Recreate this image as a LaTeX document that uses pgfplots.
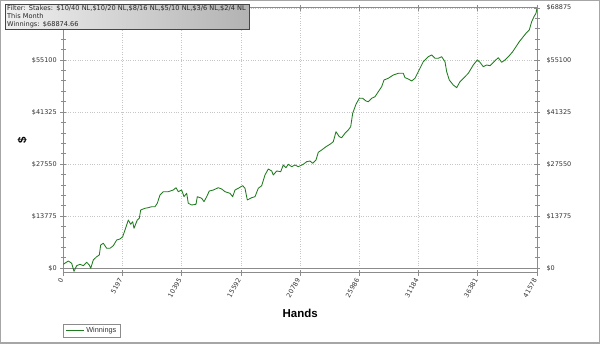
\documentclass[border=0pt]{standalone}
\usepackage{pgfplots}
\pgfplotsset{compat=1.18}
\usepackage{pgfplotstable}
\usepackage{fontspec}
\setmainfont{Liberation Sans}
\newfontfamily\dejavu{DejaVu Sans}

\definecolor{wline}{HTML}{1E7B1E}
\definecolor{axgray}{HTML}{8C8C8C}
\definecolor{lblgray}{HTML}{333333}

\pgfplotstableread{
x y
0 1058
439 1932
737 1323
939 -800
1176 688
1466 1058
1755 688
2054 1588
2282 873
2405 0
2633 2196
2932 3069
3160 3519
3283 6165
3511 6615
3809 5292
4099 5292
4389 5980
4687 7488
4977 7753
5214 8361
5415 10134
5705 12780
5916 11642
6091 12330
6205 10584
6495 12780
6671 13230
6793 15426
7171 15876
7460 16035
7759 16299
8048 16299
8250 17199
8487 19395
8777 20268
9216 20268
9655 20718
9892 21327
10094 20268
10392 20718
10594 18945
10831 19845
10971 17199
11270 16749
11647 16934
11761 18945
12147 18522
12349 17622
12586 18945
12814 20454
13166 20718
13604 21327
13903 20983
14192 20268
14631 19845
14868 18945
15070 20718
15360 21168
15746 21856
15948 21168
16150 18072
16536 18681
16826 18945
17115 21168
17413 21856
17703 24687
17993 26275
18291 25746
18432 24687
18730 25746
19081 25560
19309 27333
19546 26619
19748 27518
20047 26883
20336 27333
20626 26883
21065 27518
21363 28206
21653 28392
21890 27783
22180 28656
22381 30694
22680 31302
23057 32175
23408 32810
23698 33498
23935 36144
24225 34821
24435 34557
24725 35721
25014 36594
25225 37467
25401 41013
25690 43394
25980 44982
26278 44982
26568 44268
26770 44082
27068 44982
27358 45405
27648 46728
27946 48051
28148 49824
28525 50274
28964 51147
29403 51597
29842 51597
29991 50433
30281 50089
30579 49560
30869 50274
31158 52020
31597 54666
32036 55989
32334 56439
32624 55566
32914 55566
33212 55989
33502 54666
33651 52020
33879 49824
34230 48501
34529 47787
34818 49375
35257 50697
35547 51597
35986 53793
36337 55116
36574 54508
36863 53343
37162 53793
37451 53608
37802 54666
38180 55725
38478 54508
38768 55116
39145 56254
39444 57312
39733 58635
40023 59958
40374 61281
40611 62181
40900 63054
41111 65250
41313 66573
41489 67473
41578 68875
}\winnings

\pgfplotsset{
  commonax/.style={
    at={(0,0)}, anchor=south west,
    scale only axis, width=473.7pt, height=265pt,
    xmin=0, xmax=41578, ymin=-1244, ymax=68875,
    scaled ticks=false,
    ytick={0,13775,27550,41325,55100,68875},
    yticklabels={\$0,\$13775,\$27550,\$41325,\$55100,\$68875},
    minor y tick num=4,
    tick align=center,
    major tick length=6pt, minor tick length=5pt,
    every tick/.style={axgray, line width=0.8pt},
    axis line style={axgray, line width=1pt},
    tick label style={font=\dejavu\fontsize{6.5}{7}\selectfont, text=lblgray},
  }
}

\begin{document}
\begin{tikzpicture}[x=1pt,y=1pt]
\begin{axis}[
  commonax,
  xtick={0,5197,10395,15592,20789,25986,31184,36381,41578},
  xticklabels={0,5197,10395,15592,20789,25986,31184,36381,41578},
  minor x tick num=4,
  xtick pos=both, ytick pos=left,
  xticklabel pos=bottom,
  grid=major,
  major grid style={dotted, gray!45, line width=0.8pt},
  xticklabel style={rotate=60, anchor=east},
  extra y ticks={0}, extra y tick labels={},
  extra y tick style={grid=major, major grid style={solid, axgray, line width=1pt}, major tick length=0pt},
  xlabel={Hands},
  xlabel style={font=\bfseries\fontsize{11.5}{12}\selectfont, at={(axis description cs:0.5,-0.151)}, anchor=center},
  ylabel={\$},
  ylabel style={font=\bfseries\fontsize{11.5}{12}\selectfont, at={(axis description cs:-0.0866,0.5)}, anchor=center},
  legend style={at={(axis description cs:0,-0.1925)}, anchor=north west, draw=axgray,
    font=\fontsize{7.3}{8}\selectfont, text=lblgray, inner xsep=2pt, inner ysep=1pt,
    legend cell align=left},
  legend image code/.code={\draw[#1] (0pt,0pt) -- (18pt,0pt);},
]
\coordinate (O) at (rel axis cs:0,0);
\addplot[wline, line width=0.85pt, line join=round] table {\winnings};
\addlegendentry{Winnings}
\end{axis}
\begin{axis}[
  commonax,
  hide x axis,
  axis y line*=right,
  yticklabel pos=right,
  yticklabel style={xshift=3pt},
]
\addplot[draw=none] coordinates {(0,0)};
\end{axis}
\coordinate (BL) at ([shift={(-63.3pt,-71pt)}]O);
\coordinate (TR) at ([shift={(600pt,344pt)}]BL);
\node[anchor=north west, draw=gray!55!black, left color=gray!12, right color=gray!60,
  inner xsep=2pt, inner ysep=1.5pt, align=left, text width=240pt,
  font=\dejavu\fontsize{6.6}{7.8}\selectfont, text=black!85] at ([shift={(5pt,-4pt)}]BL|-TR)
  {Filter: Stakes: \$10/40 NL,\$10/20 NL,\$8/16 NL,\$5/10 NL,\$3/6 NL,\$2/4 NL\\This Month\\Winnings: \$68874.66};
\draw[gray!70, line width=1.5pt] ([shift={(0.75pt,0.75pt)}]BL) rectangle ([shift={(-0.75pt,-0.75pt)}]TR);
\pgfresetboundingbox
\useasboundingbox (BL) rectangle (TR);
\end{tikzpicture}
\end{document}
